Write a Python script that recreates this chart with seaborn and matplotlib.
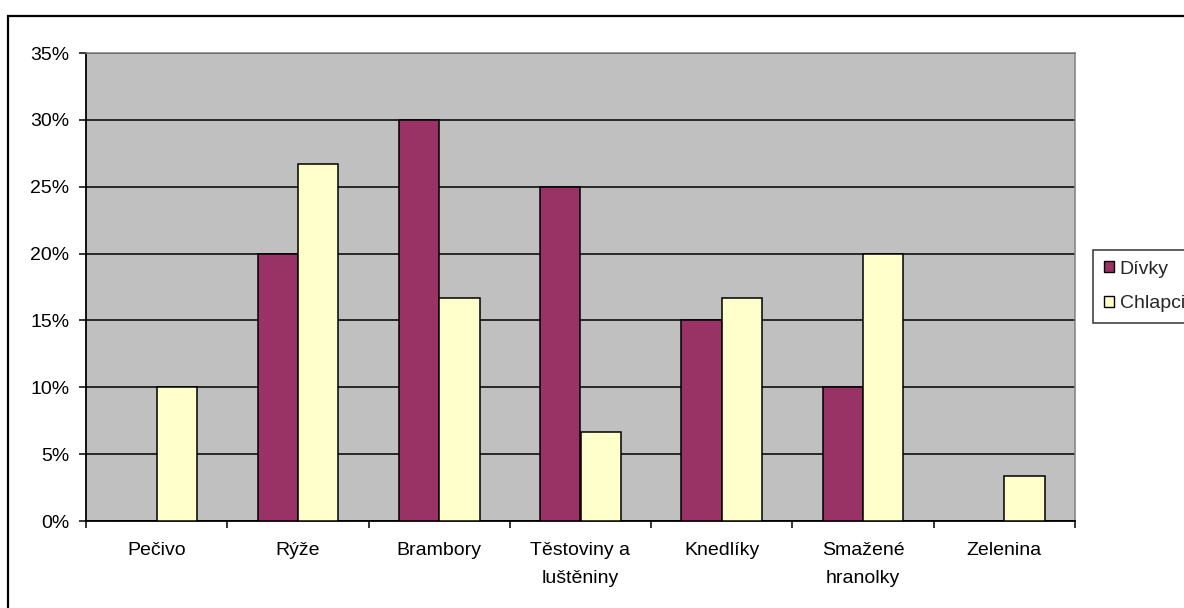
import matplotlib
matplotlib.use("Agg")
import matplotlib.pyplot as plt
from matplotlib.patches import Rectangle, Patch
from matplotlib.ticker import FixedLocator, PercentFormatter
import pandas as pd
import seaborn as sns

categories = ["Pečivo", "Rýže", "Brambory", "Těstoviny a\nluštěniny",
              "Knedlíky", "Smažené\nhranolky", "Zelenina"]
series_names = ["Dívky", "Chlapci"]
divky = [0.0, 20.0, 30.0, 25.0, 15.0, 10.0, 0.0]
chlapci = [10.0, 26.67, 16.67, 6.67, 16.67, 20.0, 3.33]
y_ticks = [0, 5, 10, 15, 20, 25, 30, 35]

colors = {"Dívky": "#993366", "Chlapci": "#FFFFCC"}

df = pd.DataFrame({
    "kategorie": categories * 2,
    "pohlavi": [series_names[0]] * len(categories) + [series_names[1]] * len(categories),
    "podil": divky + chlapci,
})

sns.set_theme(style="white")
plt.rcParams["font.family"] = ["Liberation Sans", "DejaVu Sans"]

FS = 14
W, H = 1184, 608
fig = plt.figure(figsize=(W / 100, H / 100), dpi=100)

# outer chart frame
fig.patches.append(Rectangle((8 / W, -0.01), 1.05, 1 - 16 / H + 0.01,
                             transform=fig.transFigure, fill=False,
                             edgecolor="black", linewidth=1.6, zorder=0))

ax = fig.add_axes([86 / W, 1 - 521 / H, (1075 - 86) / W, (521 - 53) / H])
ax.set_facecolor("#C0C0C0")

sns.barplot(data=df, x="kategorie", y="podil", hue="pohlavi",
            hue_order=series_names, order=categories, palette=colors,
            width=0.572, edgecolor="black", linewidth=1.1, saturation=1,
            ax=ax, legend=False, zorder=3)

ax.set_xlim(-0.5, len(categories) - 0.5)
ax.set_ylim(0, 35)
ax.yaxis.set_major_locator(FixedLocator(y_ticks))
ax.yaxis.set_major_formatter(PercentFormatter(decimals=0))
ax.grid(axis="y", color="black", linewidth=1.1, zorder=1)
ax.set_axisbelow(True)

ax.set_xticks(range(len(categories)))
ax.set_xticklabels(categories, linespacing=1.85)
ax.set_xticks([i - 0.5 for i in range(len(categories) + 1)], minor=True)
ax.tick_params(axis="x", which="major", length=0, pad=15, labelsize=FS)
ax.tick_params(axis="x", which="minor", length=5, width=1.1, color="black",
               direction="out", bottom=True)
ax.tick_params(axis="y", length=5, width=1.1, color="black", direction="out",
               left=True, pad=7, labelsize=FS)
for lbl in ax.get_xticklabels() + ax.get_yticklabels():
    lbl.set_color("black")

ax.set_xlabel("")
ax.set_ylabel("")
for side in ["left", "bottom"]:
    ax.spines[side].set_color("black")
    ax.spines[side].set_linewidth(1.3)
for side in ["top", "right"]:
    ax.spines[side].set_color("#808080")
    ax.spines[side].set_linewidth(1.1)

handles = [Patch(facecolor=colors[n], edgecolor="black", linewidth=1.0)
           for n in series_names]
leg = fig.legend(handles, series_names, loc="upper left",
                 bbox_to_anchor=(1093 / W, 1 - 250 / H), borderaxespad=0,
                 frameon=True, fancybox=False, shadow=False,
                 handlelength=0.52, handleheight=0.52, handletextpad=0.3,
                 labelspacing=0.9, borderpad=0.55, fontsize=FS)
leg.get_frame().set_edgecolor("black")
leg.get_frame().set_linewidth(1.1)
leg.get_frame().set_facecolor("white")

fig.savefig("out.png", dpi=100, facecolor="white")
